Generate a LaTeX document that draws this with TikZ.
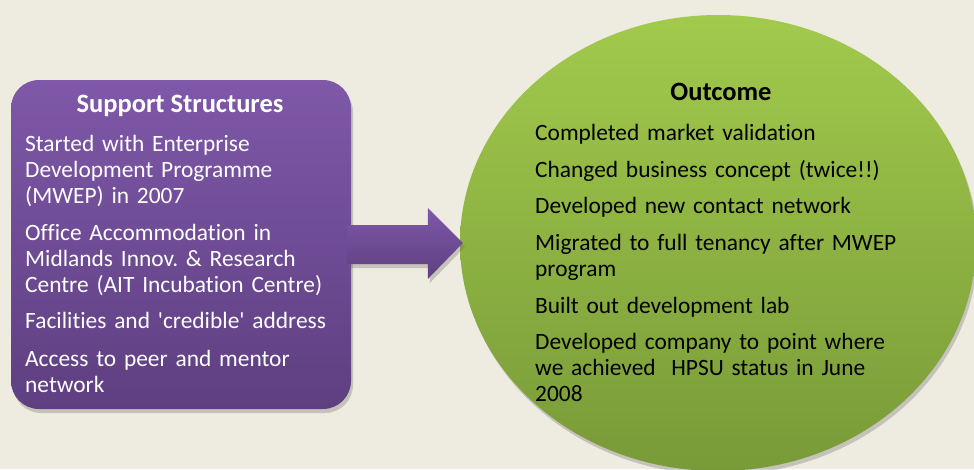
\documentclass[tikz,border=0pt]{standalone}
\usepackage{fontspec}
\setmainfont{Carlito}[Ligatures={NoCommon}]
\frenchspacing
\usetikzlibrary{shapes.geometric,shadows,calc}
\definecolor{bgbeige}{HTML}{EEEBE0}
\definecolor{purpletop}{HTML}{7F58A9}
\definecolor{purplebot}{HTML}{5E3F80}
\definecolor{greentop}{HTML}{A2CA4C}
\definecolor{greenbot}{HTML}{789A38}
\tikzset{
  softshadow/.style={drop shadow={shadow xshift=2pt,shadow yshift=-4pt,opacity=0.3,fill=black!60}},
  heading/.style={font=\fontsize{26.5}{28}\selectfont\bfseries,inner sep=0pt,anchor=base},
  boxitem/.style={font=\fontsize{23.4}{26}\selectfont,text=white,inner sep=0pt,anchor=base west,text width=330pt,align=left},
  ovalitem/.style={boxitem,text=black,text width=380pt}
}
\begin{document}
\begin{tikzpicture}[x=1pt,y=-1pt]
  \useasboundingbox (0,0) rectangle (974,469);
  \fill[bgbeige] (0,0) rectangle (974,469);
  % left box
  \node[draw=none,rounded corners=28pt,minimum width=340pt,minimum height=329pt,
        top color=purpletop,bottom color=purplebot,softshadow] (support) at (181,244.5) {};
  % right oval
  \node[ellipse,draw=none,minimum width=516pt,minimum height=456pt,
        top color=greentop,bottom color=greenbot,softshadow] (outcome) at (718,243) {};
  % connector
  \coordinate (tip) at ([xshift=3pt]outcome.west);
  \path[top color=purpletop,bottom color=purplebot,softshadow]
    ([xshift=-4pt]support.east |- {$(tip)+(0,-18)$}) -- ($(tip)+(-35,-18)$) -- ($(tip)+(-35,-35)$)
    -- (tip) -- ($(tip)+(-35,36)$) -- ($(tip)+(-35,21)$)
    -- ([xshift=-4pt]support.east |- {$(tip)+(0,21)$}) -- cycle;
  % texts of the box
  \node[heading,text=white] (supporthead) at (180,112) {Support Structures};
  \node[boxitem] (s1) at (25,151) {Started with Enterprise\\Development Programme\\(MWEP) in 2007};
  \node[boxitem] (s2) at (25,240) {Office Accommodation in\\Midlands Innov. \& Research\\Centre (AIT Incubation Centre)};
  \node[boxitem] (s3) at (25,328) {Facilities and \textquotesingle credible\textquotesingle\ address};
  \node[boxitem] (s4) at (25,366) {Access to peer and mentor\\network};
  % texts of the oval
  \node[heading,text=black] (outcomehead) at (721,100) {Outcome};
  \node[ovalitem] (o1) at (535,140) {Completed market validation};
  \node[ovalitem] (o2) at (535,177) {Changed business concept (twice!!)};
  \node[ovalitem] (o3) at (535,213) {Developed new contact network};
  \node[ovalitem] (o4) at (535,250) {Migrated to full tenancy after MWEP\\program};
  \node[ovalitem] (o5) at (535,313) {Built out development lab};
  \node[ovalitem] (o6) at (535,349) {Developed company to point where\\we achieved~ HPSU status in June\\2008};
\end{tikzpicture}
\end{document}
